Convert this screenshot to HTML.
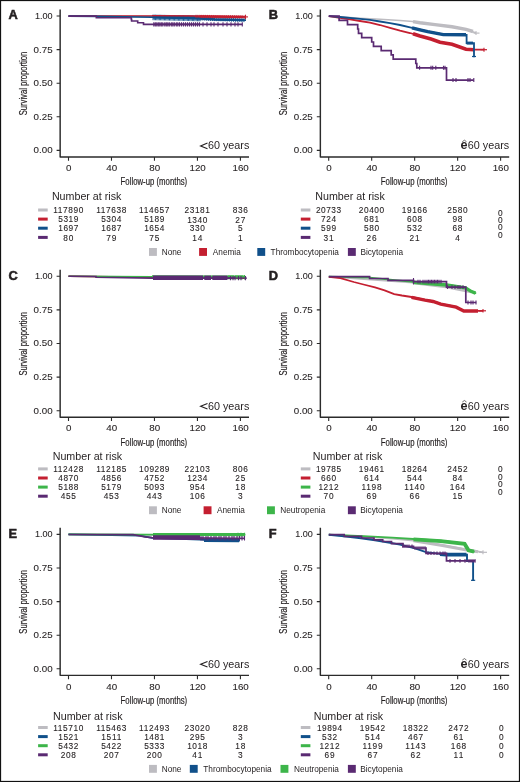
<!DOCTYPE html><html><head><meta charset="utf-8"><style>html,body{margin:0;padding:0;background:#fff;}svg{display:block;will-change:transform;font-family:"Liberation Sans",sans-serif;}</style></head><body>
<svg width="520" height="782" viewBox="0 0 520 782">
<rect x="0" y="0" width="520" height="782" fill="#fff"/>
<g fill="#231f20">
<text x="8.5" y="19.2" font-size="12.8" font-weight="bold" stroke="#231f20" stroke-width="0.55">A</text>
<path d="M60.15 9.4V156.95H249" fill="none" stroke="#2b2b2b" stroke-width="1.45" stroke-linejoin="round"/>
<path d="M56.6 16H60.1M56.6 49.6H60.1M56.6 83.2H60.1M56.6 116.8H60.1M56.6 150.4H60.1M68.5 156.95V160.8M111.48 156.95V160.8M154.46 156.95V160.8M197.44 156.95V160.8M240.42 156.95V160.8" fill="none" stroke="#2b2b2b" stroke-width="1.1"/>
<text x="52.6" y="18.95" font-size="8.4" text-anchor="end" textLength="17.6" lengthAdjust="spacingAndGlyphs" stroke="#231f20" stroke-width="0.08">1.00</text>
<text x="52.6" y="52.55" font-size="8.4" text-anchor="end" textLength="19" lengthAdjust="spacingAndGlyphs" stroke="#231f20" stroke-width="0.08">0.75</text>
<text x="52.6" y="86.15" font-size="8.4" text-anchor="end" textLength="19" lengthAdjust="spacingAndGlyphs" stroke="#231f20" stroke-width="0.08">0.50</text>
<text x="52.6" y="119.75" font-size="8.4" text-anchor="end" textLength="19" lengthAdjust="spacingAndGlyphs" stroke="#231f20" stroke-width="0.08">0.25</text>
<text x="52.6" y="153.35" font-size="8.4" text-anchor="end" textLength="19" lengthAdjust="spacingAndGlyphs" stroke="#231f20" stroke-width="0.08">0.00</text>
<text x="68.7" y="171.1" font-size="8.4" text-anchor="middle" textLength="5.45" lengthAdjust="spacingAndGlyphs" stroke="#231f20" stroke-width="0.08">0</text>
<text x="111.68" y="171.1" font-size="8.4" text-anchor="middle" textLength="10.9" lengthAdjust="spacingAndGlyphs" stroke="#231f20" stroke-width="0.08">40</text>
<text x="154.66" y="171.1" font-size="8.4" text-anchor="middle" textLength="10.9" lengthAdjust="spacingAndGlyphs" stroke="#231f20" stroke-width="0.08">80</text>
<text x="197.64" y="171.1" font-size="8.4" text-anchor="middle" textLength="16.35" lengthAdjust="spacingAndGlyphs" stroke="#231f20" stroke-width="0.08">120</text>
<text x="240.62" y="171.1" font-size="8.4" text-anchor="middle" textLength="16.35" lengthAdjust="spacingAndGlyphs" stroke="#231f20" stroke-width="0.08">160</text>
<text x="120.6" y="185.3" font-size="10" textLength="66.6" lengthAdjust="spacingAndGlyphs" stroke="#231f20" stroke-width="0.18">Follow-up (months)</text>
<text x="0" y="0" font-size="10" textLength="63.6" lengthAdjust="spacingAndGlyphs" transform="translate(26.9 115.3) rotate(-90)" fill="#231f20" stroke="#231f20" stroke-width="0.18">Survival proportion</text>
<path d="M207.5 143.1L200.6 145.9L207.5 148.7" fill="none" stroke="#231f20" stroke-width="1.1"/><text x="207.9" y="149.3" font-size="10.4" textLength="41.4" lengthAdjust="spacingAndGlyphs" fill="#231f20">60 years</text>
<text x="268.7" y="19.2" font-size="12.8" font-weight="bold" stroke="#231f20" stroke-width="0.55">B</text>
<path d="M320.35 9.4V156.95H509.2" fill="none" stroke="#2b2b2b" stroke-width="1.45" stroke-linejoin="round"/>
<path d="M316.8 16H320.3M316.8 49.6H320.3M316.8 83.2H320.3M316.8 116.8H320.3M316.8 150.4H320.3M328.7 156.95V160.8M371.68 156.95V160.8M414.66 156.95V160.8M457.64 156.95V160.8M500.62 156.95V160.8" fill="none" stroke="#2b2b2b" stroke-width="1.1"/>
<text x="312.8" y="18.95" font-size="8.4" text-anchor="end" textLength="17.6" lengthAdjust="spacingAndGlyphs" stroke="#231f20" stroke-width="0.08">1.00</text>
<text x="312.8" y="52.55" font-size="8.4" text-anchor="end" textLength="19" lengthAdjust="spacingAndGlyphs" stroke="#231f20" stroke-width="0.08">0.75</text>
<text x="312.8" y="86.15" font-size="8.4" text-anchor="end" textLength="19" lengthAdjust="spacingAndGlyphs" stroke="#231f20" stroke-width="0.08">0.50</text>
<text x="312.8" y="119.75" font-size="8.4" text-anchor="end" textLength="19" lengthAdjust="spacingAndGlyphs" stroke="#231f20" stroke-width="0.08">0.25</text>
<text x="312.8" y="153.35" font-size="8.4" text-anchor="end" textLength="19" lengthAdjust="spacingAndGlyphs" stroke="#231f20" stroke-width="0.08">0.00</text>
<text x="328.9" y="171.1" font-size="8.4" text-anchor="middle" textLength="5.45" lengthAdjust="spacingAndGlyphs" stroke="#231f20" stroke-width="0.08">0</text>
<text x="371.88" y="171.1" font-size="8.4" text-anchor="middle" textLength="10.9" lengthAdjust="spacingAndGlyphs" stroke="#231f20" stroke-width="0.08">40</text>
<text x="414.86" y="171.1" font-size="8.4" text-anchor="middle" textLength="10.9" lengthAdjust="spacingAndGlyphs" stroke="#231f20" stroke-width="0.08">80</text>
<text x="457.84" y="171.1" font-size="8.4" text-anchor="middle" textLength="16.35" lengthAdjust="spacingAndGlyphs" stroke="#231f20" stroke-width="0.08">120</text>
<text x="500.82" y="171.1" font-size="8.4" text-anchor="middle" textLength="16.35" lengthAdjust="spacingAndGlyphs" stroke="#231f20" stroke-width="0.08">160</text>
<text x="380.8" y="185.3" font-size="10" textLength="66.6" lengthAdjust="spacingAndGlyphs" stroke="#231f20" stroke-width="0.18">Follow-up (months)</text>
<text x="0" y="0" font-size="10" textLength="63.6" lengthAdjust="spacingAndGlyphs" transform="translate(287.1 115.3) rotate(-90)" fill="#231f20" stroke="#231f20" stroke-width="0.18">Survival proportion</text>
<text x="460.6" y="149.4" font-size="12.6" font-weight="bold" fill="#231f20">e</text><path d="M462.3 141.7L464.4 140.2L466.5 141.7" fill="none" stroke="#231f20" stroke-width="0.85" stroke-opacity="0.75"/><text x="467.8" y="149.3" font-size="10.4" textLength="41.4" lengthAdjust="spacingAndGlyphs" fill="#231f20">60 years</text>
<text x="8.5" y="279.5" font-size="12.8" font-weight="bold" stroke="#231f20" stroke-width="0.55">C</text>
<path d="M60.15 269.7V417.25H249" fill="none" stroke="#2b2b2b" stroke-width="1.45" stroke-linejoin="round"/>
<path d="M56.6 276.3H60.1M56.6 309.9H60.1M56.6 343.5H60.1M56.6 377.1H60.1M56.6 410.7H60.1M68.5 417.25V421.1M111.48 417.25V421.1M154.46 417.25V421.1M197.44 417.25V421.1M240.42 417.25V421.1" fill="none" stroke="#2b2b2b" stroke-width="1.1"/>
<text x="52.6" y="279.25" font-size="8.4" text-anchor="end" textLength="17.6" lengthAdjust="spacingAndGlyphs" stroke="#231f20" stroke-width="0.08">1.00</text>
<text x="52.6" y="312.85" font-size="8.4" text-anchor="end" textLength="19" lengthAdjust="spacingAndGlyphs" stroke="#231f20" stroke-width="0.08">0.75</text>
<text x="52.6" y="346.45" font-size="8.4" text-anchor="end" textLength="19" lengthAdjust="spacingAndGlyphs" stroke="#231f20" stroke-width="0.08">0.50</text>
<text x="52.6" y="380.05" font-size="8.4" text-anchor="end" textLength="19" lengthAdjust="spacingAndGlyphs" stroke="#231f20" stroke-width="0.08">0.25</text>
<text x="52.6" y="413.65" font-size="8.4" text-anchor="end" textLength="19" lengthAdjust="spacingAndGlyphs" stroke="#231f20" stroke-width="0.08">0.00</text>
<text x="68.7" y="431.4" font-size="8.4" text-anchor="middle" textLength="5.45" lengthAdjust="spacingAndGlyphs" stroke="#231f20" stroke-width="0.08">0</text>
<text x="111.68" y="431.4" font-size="8.4" text-anchor="middle" textLength="10.9" lengthAdjust="spacingAndGlyphs" stroke="#231f20" stroke-width="0.08">40</text>
<text x="154.66" y="431.4" font-size="8.4" text-anchor="middle" textLength="10.9" lengthAdjust="spacingAndGlyphs" stroke="#231f20" stroke-width="0.08">80</text>
<text x="197.64" y="431.4" font-size="8.4" text-anchor="middle" textLength="16.35" lengthAdjust="spacingAndGlyphs" stroke="#231f20" stroke-width="0.08">120</text>
<text x="240.62" y="431.4" font-size="8.4" text-anchor="middle" textLength="16.35" lengthAdjust="spacingAndGlyphs" stroke="#231f20" stroke-width="0.08">160</text>
<text x="120.6" y="445.6" font-size="10" textLength="66.6" lengthAdjust="spacingAndGlyphs" stroke="#231f20" stroke-width="0.18">Follow-up (months)</text>
<text x="0" y="0" font-size="10" textLength="63.6" lengthAdjust="spacingAndGlyphs" transform="translate(26.9 375.6) rotate(-90)" fill="#231f20" stroke="#231f20" stroke-width="0.18">Survival proportion</text>
<path d="M207.5 403.4L200.6 406.2L207.5 409" fill="none" stroke="#231f20" stroke-width="1.1"/><text x="207.9" y="409.6" font-size="10.4" textLength="41.4" lengthAdjust="spacingAndGlyphs" fill="#231f20">60 years</text>
<text x="268.7" y="279.5" font-size="12.8" font-weight="bold" stroke="#231f20" stroke-width="0.55">D</text>
<path d="M320.35 269.7V417.25H509.2" fill="none" stroke="#2b2b2b" stroke-width="1.45" stroke-linejoin="round"/>
<path d="M316.8 276.3H320.3M316.8 309.9H320.3M316.8 343.5H320.3M316.8 377.1H320.3M316.8 410.7H320.3M328.7 417.25V421.1M371.68 417.25V421.1M414.66 417.25V421.1M457.64 417.25V421.1M500.62 417.25V421.1" fill="none" stroke="#2b2b2b" stroke-width="1.1"/>
<text x="312.8" y="279.25" font-size="8.4" text-anchor="end" textLength="17.6" lengthAdjust="spacingAndGlyphs" stroke="#231f20" stroke-width="0.08">1.00</text>
<text x="312.8" y="312.85" font-size="8.4" text-anchor="end" textLength="19" lengthAdjust="spacingAndGlyphs" stroke="#231f20" stroke-width="0.08">0.75</text>
<text x="312.8" y="346.45" font-size="8.4" text-anchor="end" textLength="19" lengthAdjust="spacingAndGlyphs" stroke="#231f20" stroke-width="0.08">0.50</text>
<text x="312.8" y="380.05" font-size="8.4" text-anchor="end" textLength="19" lengthAdjust="spacingAndGlyphs" stroke="#231f20" stroke-width="0.08">0.25</text>
<text x="312.8" y="413.65" font-size="8.4" text-anchor="end" textLength="19" lengthAdjust="spacingAndGlyphs" stroke="#231f20" stroke-width="0.08">0.00</text>
<text x="328.9" y="431.4" font-size="8.4" text-anchor="middle" textLength="5.45" lengthAdjust="spacingAndGlyphs" stroke="#231f20" stroke-width="0.08">0</text>
<text x="371.88" y="431.4" font-size="8.4" text-anchor="middle" textLength="10.9" lengthAdjust="spacingAndGlyphs" stroke="#231f20" stroke-width="0.08">40</text>
<text x="414.86" y="431.4" font-size="8.4" text-anchor="middle" textLength="10.9" lengthAdjust="spacingAndGlyphs" stroke="#231f20" stroke-width="0.08">80</text>
<text x="457.84" y="431.4" font-size="8.4" text-anchor="middle" textLength="16.35" lengthAdjust="spacingAndGlyphs" stroke="#231f20" stroke-width="0.08">120</text>
<text x="500.82" y="431.4" font-size="8.4" text-anchor="middle" textLength="16.35" lengthAdjust="spacingAndGlyphs" stroke="#231f20" stroke-width="0.08">160</text>
<text x="380.8" y="445.6" font-size="10" textLength="66.6" lengthAdjust="spacingAndGlyphs" stroke="#231f20" stroke-width="0.18">Follow-up (months)</text>
<text x="0" y="0" font-size="10" textLength="63.6" lengthAdjust="spacingAndGlyphs" transform="translate(287.1 375.6) rotate(-90)" fill="#231f20" stroke="#231f20" stroke-width="0.18">Survival proportion</text>
<text x="460.6" y="409.7" font-size="12.6" font-weight="bold" fill="#231f20">e</text><path d="M462.3 402L464.4 400.5L466.5 402" fill="none" stroke="#231f20" stroke-width="0.85" stroke-opacity="0.75"/><text x="467.8" y="409.6" font-size="10.4" textLength="41.4" lengthAdjust="spacingAndGlyphs" fill="#231f20">60 years</text>
<text x="8.5" y="537.6" font-size="12.8" font-weight="bold" stroke="#231f20" stroke-width="0.55">E</text>
<path d="M60.15 527.8V675.35H249" fill="none" stroke="#2b2b2b" stroke-width="1.45" stroke-linejoin="round"/>
<path d="M56.6 534.4H60.1M56.6 568H60.1M56.6 601.6H60.1M56.6 635.2H60.1M56.6 668.8H60.1M68.5 675.35V679.2M111.48 675.35V679.2M154.46 675.35V679.2M197.44 675.35V679.2M240.42 675.35V679.2" fill="none" stroke="#2b2b2b" stroke-width="1.1"/>
<text x="52.6" y="537.35" font-size="8.4" text-anchor="end" textLength="17.6" lengthAdjust="spacingAndGlyphs" stroke="#231f20" stroke-width="0.08">1.00</text>
<text x="52.6" y="570.95" font-size="8.4" text-anchor="end" textLength="19" lengthAdjust="spacingAndGlyphs" stroke="#231f20" stroke-width="0.08">0.75</text>
<text x="52.6" y="604.55" font-size="8.4" text-anchor="end" textLength="19" lengthAdjust="spacingAndGlyphs" stroke="#231f20" stroke-width="0.08">0.50</text>
<text x="52.6" y="638.15" font-size="8.4" text-anchor="end" textLength="19" lengthAdjust="spacingAndGlyphs" stroke="#231f20" stroke-width="0.08">0.25</text>
<text x="52.6" y="671.75" font-size="8.4" text-anchor="end" textLength="19" lengthAdjust="spacingAndGlyphs" stroke="#231f20" stroke-width="0.08">0.00</text>
<text x="68.7" y="689.5" font-size="8.4" text-anchor="middle" textLength="5.45" lengthAdjust="spacingAndGlyphs" stroke="#231f20" stroke-width="0.08">0</text>
<text x="111.68" y="689.5" font-size="8.4" text-anchor="middle" textLength="10.9" lengthAdjust="spacingAndGlyphs" stroke="#231f20" stroke-width="0.08">40</text>
<text x="154.66" y="689.5" font-size="8.4" text-anchor="middle" textLength="10.9" lengthAdjust="spacingAndGlyphs" stroke="#231f20" stroke-width="0.08">80</text>
<text x="197.64" y="689.5" font-size="8.4" text-anchor="middle" textLength="16.35" lengthAdjust="spacingAndGlyphs" stroke="#231f20" stroke-width="0.08">120</text>
<text x="240.62" y="689.5" font-size="8.4" text-anchor="middle" textLength="16.35" lengthAdjust="spacingAndGlyphs" stroke="#231f20" stroke-width="0.08">160</text>
<text x="120.6" y="703.7" font-size="10" textLength="66.6" lengthAdjust="spacingAndGlyphs" stroke="#231f20" stroke-width="0.18">Follow-up (months)</text>
<text x="0" y="0" font-size="10" textLength="63.6" lengthAdjust="spacingAndGlyphs" transform="translate(26.9 633.7) rotate(-90)" fill="#231f20" stroke="#231f20" stroke-width="0.18">Survival proportion</text>
<path d="M207.5 661.5L200.6 664.3L207.5 667.1" fill="none" stroke="#231f20" stroke-width="1.1"/><text x="207.9" y="667.7" font-size="10.4" textLength="41.4" lengthAdjust="spacingAndGlyphs" fill="#231f20">60 years</text>
<text x="268.7" y="537.6" font-size="12.8" font-weight="bold" stroke="#231f20" stroke-width="0.55">F</text>
<path d="M320.35 527.8V675.35H509.2" fill="none" stroke="#2b2b2b" stroke-width="1.45" stroke-linejoin="round"/>
<path d="M316.8 534.4H320.3M316.8 568H320.3M316.8 601.6H320.3M316.8 635.2H320.3M316.8 668.8H320.3M328.7 675.35V679.2M371.68 675.35V679.2M414.66 675.35V679.2M457.64 675.35V679.2M500.62 675.35V679.2" fill="none" stroke="#2b2b2b" stroke-width="1.1"/>
<text x="312.8" y="537.35" font-size="8.4" text-anchor="end" textLength="17.6" lengthAdjust="spacingAndGlyphs" stroke="#231f20" stroke-width="0.08">1.00</text>
<text x="312.8" y="570.95" font-size="8.4" text-anchor="end" textLength="19" lengthAdjust="spacingAndGlyphs" stroke="#231f20" stroke-width="0.08">0.75</text>
<text x="312.8" y="604.55" font-size="8.4" text-anchor="end" textLength="19" lengthAdjust="spacingAndGlyphs" stroke="#231f20" stroke-width="0.08">0.50</text>
<text x="312.8" y="638.15" font-size="8.4" text-anchor="end" textLength="19" lengthAdjust="spacingAndGlyphs" stroke="#231f20" stroke-width="0.08">0.25</text>
<text x="312.8" y="671.75" font-size="8.4" text-anchor="end" textLength="19" lengthAdjust="spacingAndGlyphs" stroke="#231f20" stroke-width="0.08">0.00</text>
<text x="328.9" y="689.5" font-size="8.4" text-anchor="middle" textLength="5.45" lengthAdjust="spacingAndGlyphs" stroke="#231f20" stroke-width="0.08">0</text>
<text x="371.88" y="689.5" font-size="8.4" text-anchor="middle" textLength="10.9" lengthAdjust="spacingAndGlyphs" stroke="#231f20" stroke-width="0.08">40</text>
<text x="414.86" y="689.5" font-size="8.4" text-anchor="middle" textLength="10.9" lengthAdjust="spacingAndGlyphs" stroke="#231f20" stroke-width="0.08">80</text>
<text x="457.84" y="689.5" font-size="8.4" text-anchor="middle" textLength="16.35" lengthAdjust="spacingAndGlyphs" stroke="#231f20" stroke-width="0.08">120</text>
<text x="500.82" y="689.5" font-size="8.4" text-anchor="middle" textLength="16.35" lengthAdjust="spacingAndGlyphs" stroke="#231f20" stroke-width="0.08">160</text>
<text x="380.8" y="703.7" font-size="10" textLength="66.6" lengthAdjust="spacingAndGlyphs" stroke="#231f20" stroke-width="0.18">Follow-up (months)</text>
<text x="0" y="0" font-size="10" textLength="63.6" lengthAdjust="spacingAndGlyphs" transform="translate(287.1 633.7) rotate(-90)" fill="#231f20" stroke="#231f20" stroke-width="0.18">Survival proportion</text>
<text x="460.6" y="667.8" font-size="12.6" font-weight="bold" fill="#231f20">e</text><path d="M462.3 660.1L464.4 658.6L466.5 660.1" fill="none" stroke="#231f20" stroke-width="0.85" stroke-opacity="0.75"/><text x="467.8" y="667.7" font-size="10.4" textLength="41.4" lengthAdjust="spacingAndGlyphs" fill="#231f20">60 years</text>
<path d="M68.5 16 L152 16.4 L245 17.4" stroke="#bdbcc1" stroke-width="1.6" fill="none" stroke-linejoin="miter"/>
<path d="M68.5 16 L152 16 L195 16.4 L245.5 16.9" stroke="#c41f30" stroke-width="1.6" fill="none" stroke-linejoin="miter"/>
<path d="M68.5 16.1 L96 16.4 L152 17.2 L185 17.9 L200 18.3 L215 19.4 L246 20.1" stroke="#10508a" stroke-width="1.6" fill="none" stroke-linejoin="miter"/>
<path d="M153 17.4 L185 18 L200 18.5 L215 19.5 L244 20.1" stroke="#10508a" stroke-width="2.4" fill="none" stroke-linejoin="miter"/>
<path d="M153 14.6V20.2M154.27 14.63V20.23M155.54 14.66V20.26M156.81 14.69V20.29M158.08 14.72V20.32M159.35 14.75V20.35M160.62 14.78V20.38M161.89 14.81V20.41M163.16 14.84V20.44M164.43 14.87V20.47M165.7 14.9V20.5M166.97 14.93V20.53M168.24 14.96V20.56M169.51 14.99V20.59M170.78 15.02V20.62M172.05 15.05V20.65M173.32 15.08V20.68M174.59 15.11V20.71M175.86 15.14V20.74M177.14 15.16V20.76M178.41 15.19V20.79M179.68 15.22V20.82M180.95 15.25V20.85M182.22 15.28V20.88M183.49 15.31V20.91M184.76 15.34V20.94M186.03 15.37V20.97M187.3 15.4V21M188.57 15.43V21.03M189.84 15.46V21.06M191.11 15.49V21.09M192.38 15.52V21.12M193.65 15.55V21.15M194.92 15.58V21.18M196.19 15.61V21.21M197.46 15.64V21.24M198.73 15.67V21.27M200 15.7V21.3" stroke="#10508a" stroke-width="0.9" fill="none"/>
<path d="M200 16.6V20.6M202.1 16.67V20.67M204.19 16.74V20.74M206.29 16.81V20.81M208.38 16.89V20.89M210.48 16.96V20.96M212.57 17.03V21.03M214.67 17.1V21.1M216.76 17.17V21.17M218.86 17.24V21.24M220.95 17.31V21.31M223.05 17.39V21.39M225.14 17.46V21.46M227.24 17.53V21.53M229.33 17.6V21.6M231.43 17.67V21.67M233.52 17.74V21.74M235.62 17.81V21.81M237.71 17.89V21.89M239.81 17.96V21.96M241.9 18.03V22.03M244 18.1V22.1" stroke="#10508a" stroke-width="0.9" fill="none"/>
<path d="M152 15.6 L190 15.9 L205 16.3 L243 16.9" stroke="#c41f30" stroke-width="1.2" fill="none" stroke-linejoin="miter"/>
<path d="M200 16.4 L243 16.9" stroke="#c41f30" stroke-width="2.4" fill="none" stroke-linejoin="miter"/>
<path d="M196 14.8V18M197.92 14.82V18.02M199.84 14.84V18.04M201.76 14.86V18.06M203.68 14.88V18.08M205.6 14.9V18.1M207.52 14.92V18.12M209.44 14.94V18.14M211.36 14.96V18.16M213.28 14.98V18.18M215.2 15V18.2M217.12 15.02V18.22M219.04 15.04V18.24M220.96 15.06V18.26M222.88 15.08V18.28M224.8 15.1V18.3M226.72 15.12V18.32M228.64 15.14V18.34M230.56 15.16V18.36M232.48 15.18V18.38M234.4 15.2V18.4M236.32 15.22V18.42M238.24 15.24V18.44M240.16 15.26V18.46M242.08 15.28V18.48M244 15.3V18.5" stroke="#c41f30" stroke-width="0.9" fill="none"/>
<path d="M245.5 14.7V19.1" stroke="#c41f30" stroke-width="1.1" fill="none"/>
<path d="M243 16.9H248" stroke="#c41f30" stroke-width="1.1"/>
<path d="M68.5 16.1 L96.3 16.1 L96.3 17.7 L131.3 17.7 L131.3 19.4 L131.6 19.4 L131.6 21 L137.7 21 L137.7 22.7 L143.5 22.7 L143.5 24.4 L242.3 24.4 L242.3 24.4" stroke="#5a2a72" stroke-width="1.6" fill="none" stroke-linejoin="miter"/>
<path d="M154 24.4 L200 24.4" stroke="#5a2a72" stroke-width="1.8" fill="none" stroke-linejoin="miter"/>
<path d="M153.8 22.2V26.6M155.3 22.2V26.6M156.8 22.2V26.6M158.3 22.2V26.6M159.8 22.2V26.6M161.3 22.2V26.6M162.8 22.2V26.6M164.8 22.2V26.6M166.3 22.2V26.6M167.8 22.2V26.6M169.3 22.2V26.6M171.3 22.2V26.6M172.8 22.2V26.6M174.3 22.2V26.6M176.3 22.2V26.6M177.8 22.2V26.6M179.5 22.2V26.6M181.5 22.2V26.6M183.5 22.2V26.6M185.5 22.2V26.6M187.5 22.2V26.6M189.5 22.2V26.6M191.5 22.2V26.6M193.5 22.2V26.6M195.5 22.2V26.6M197.5 22.2V26.6M199.5 22.2V26.6M203 22.2V26.6M207 22.2V26.6M211 22.2V26.6M214 22.2V26.6M218 22.2V26.6M223 22.2V26.6M227 22.2V26.6M231 22.2V26.6M235 22.2V26.6M238 22.2V26.6M242.3 22.2V26.6" stroke="#5a2a72" stroke-width="1.1" fill="none"/>
<path d="M328.8 16.2 L340 16.9 L360 18.2 L380 19.2 L400 20.5 L413 21.5 L420 22.7 L435 24.5 L452 26.7 L466 29.3 L476 33.1" stroke="#bdbcc1" stroke-width="1.6" fill="none" stroke-linejoin="miter"/>
<path d="M413 21.6 L420 22.8 L435 24.6 L452 26.8 L466 29.4 L473 31.5" stroke="#bdbcc1" stroke-width="3.4" fill="none" stroke-linejoin="miter"/>
<path d="M476 31.1V35.1" stroke="#bdbcc1" stroke-width="1.1" fill="none"/>
<path d="M473.5 33.1H479.5" stroke="#bdbcc1" stroke-width="1.2"/>
<path d="M328.8 16.2 L340 17.8 L350 19.4 L360 21 L370 22.7 L380 25 L390 27.8 L400 30.7 L410 33 L420 35.9 L431 38.8 L440 42 L452 44 L466 49.2 L474 49.7 L484 49.7" stroke="#c41f30" stroke-width="1.8" fill="none" stroke-linejoin="miter"/>
<path d="M413 33.8 L420 36 L431 39 L440 42.2 L452 44.2 L466 49.3 L474 49.8" stroke="#c41f30" stroke-width="3.6" fill="none" stroke-linejoin="miter"/>
<path d="M484 47.7V51.7" stroke="#c41f30" stroke-width="1.1" fill="none"/>
<path d="M480.5 49.7H487" stroke="#c41f30" stroke-width="1.2"/>
<path d="M328.8 16.2 L340 17 L360 18.8 L370 19.8 L380 21.5 L390 23.2 L400 25 L410 27.3 L420 29.6 L427.7 31.4 L443.3 34.5 L466.6 34.8 L466.6 43.1 L474 43.1 L474 57.3" stroke="#10508a" stroke-width="1.8" fill="none" stroke-linejoin="miter"/>
<path d="M412 27.8 L420 29.8 L427.7 31.6 L443.3 34.6 L466 34.8" stroke="#10508a" stroke-width="3.4" fill="none" stroke-linejoin="miter"/>
<path d="M466.6 43.1 L473 43.1" stroke="#10508a" stroke-width="3" fill="none" stroke-linejoin="miter"/>
<path d="M472 56.5H476" stroke="#10508a" stroke-width="1.2"/>
<path d="M328.8 16.1 L339.1 16.1 L339.1 20.4 L347.5 20.4 L347.5 24.7 L357.7 24.7 L357.7 29 L358.5 29 L358.5 33.4 L361.7 33.4 L361.7 37.7 L371.7 37.7 L371.7 42 L373.5 42 L373.5 46.3 L381.2 46.3 L381.2 50.6 L391.2 50.6 L391.2 54.9 L393.2 54.9 L393.2 59.2 L415.8 59.2 L415.8 63.5 L416.8 63.5 L416.8 67.8 L446.5 67.8 L446.5 80.1 L473.8 80.1 L473.8 80.1" stroke="#5a2a72" stroke-width="1.7" fill="none" stroke-linejoin="miter"/>
<path d="M419.6 65.8V69.8M431 65.8V69.8M432.7 65.8V69.8M435.8 65.8V69.8M443.5 65.8V69.8M445 65.8V69.8" stroke="#5a2a72" stroke-width="1.1" fill="none"/>
<path d="M453 78.1V82.1M456 78.1V82.1M468 78.1V82.1M470 78.1V82.1M473.8 78.1V82.1" stroke="#5a2a72" stroke-width="1.1" fill="none"/>
<path d="M68.5 276.3 L152 277 L245 277.4" stroke="#bdbcc1" stroke-width="1.6" fill="none" stroke-linejoin="miter"/>
<path d="M68.5 276.3 L152 277.3 L245 278.2" stroke="#c41f30" stroke-width="1.6" fill="none" stroke-linejoin="miter"/>
<path d="M68.5 276.3 L152 276.8 L245.2 276.9" stroke="#3db54a" stroke-width="1.6" fill="none" stroke-linejoin="miter"/>
<path d="M152 276.4 L245 276.5" stroke="#3db54a" stroke-width="2.2" fill="none" stroke-linejoin="miter"/>
<path d="M229 275V279.6M231 275V279.6M233 275V279.6M236 275V279.6M238 275V279.6M240 275V279.6M242 275V279.6M244.5 275V279.6" stroke="#3db54a" stroke-width="1.1" fill="none"/>
<path d="M68.5 276.3 L96 276.5 L96 277.2 L152 278.1 L235 278.1" stroke="#5a2a72" stroke-width="1.6" fill="none" stroke-linejoin="miter"/>
<path d="M153 277.8 L203 277.8" stroke="#5a2a72" stroke-width="4.4" fill="none" stroke-linejoin="miter"/>
<path d="M204.3 277.8 L211 277.8" stroke="#5a2a72" stroke-width="4.4" fill="none" stroke-linejoin="miter"/>
<path d="M212.3 277.8 L227.5 277.8" stroke="#5a2a72" stroke-width="4.4" fill="none" stroke-linejoin="miter"/>
<path d="M230.5 276V280.2M233 276V280.2M235 276V280.2M238.5 276V280.2M241 276V280.2M245.5 276V280.2" stroke="#5a2a72" stroke-width="1.1" fill="none"/>
<path d="M228 278.1H247" stroke="#5a2a72" stroke-width="1.2"/>
<path d="M328.8 276.7 L413 282.5 L446 286.5 L466 290.5 L473 292.3" stroke="#bdbcc1" stroke-width="1.8" fill="none" stroke-linejoin="miter"/>
<path d="M413 282.9 L446 286.9 L466 290.8 L471 291.8" stroke="#bdbcc1" stroke-width="2.8" fill="none" stroke-linejoin="miter"/>
<path d="M328.8 276.7 L369.6 277.6 L413 281.8 L446.5 284.6 L465.4 287.5 L471.5 291.5 L476.2 293.5" stroke="#3db54a" stroke-width="1.8" fill="none" stroke-linejoin="miter"/>
<path d="M413 282.2 L446.5 285 L465.4 287.8 L471.5 291.6 L475.5 293.2" stroke="#3db54a" stroke-width="3.4" fill="none" stroke-linejoin="miter"/>
<path d="M328.8 276.8 L340.4 278.2 L353.8 282 L363.5 284.5 L375 287.4 L384.6 290.3 L394.2 294.1 L401.9 295.5 L411.5 297 L425 299.9 L433 301.2 L440.8 303.8 L456.2 306.9 L463.8 310.8 L483 310.8" stroke="#c41f30" stroke-width="1.8" fill="none" stroke-linejoin="miter"/>
<path d="M411.5 297.3 L425 300.2 L433 301.5 L440.8 304.1 L456.2 307.2 L463.8 311 L478 311" stroke="#c41f30" stroke-width="3.4" fill="none" stroke-linejoin="miter"/>
<path d="M483 309V312.6" stroke="#c41f30" stroke-width="1.1" fill="none"/>
<path d="M479 310.8H486" stroke="#c41f30" stroke-width="1.2"/>
<path d="M328.8 276.7 L369.6 276.7 L369.6 278.5 L388 278.5 L388 280.3 L413.5 280.3 L413.5 281.7 L446.5 281.7 L446.5 287.1 L465.8 287.1 L465.8 302.5 L476.2 302.5 L476.2 302.5" stroke="#5a2a72" stroke-width="1.7" fill="none" stroke-linejoin="miter"/>
<path d="M413.5 278V284.4" stroke="#5a2a72" stroke-width="1.1" fill="none"/>
<path d="M418 279.8V283.6M420 279.8V283.6M423 279.8V283.6M425 279.8V283.6M427 279.8V283.6M428.5 279.8V283.6M430 279.8V283.6M431.5 279.8V283.6M433 279.8V283.6M434.5 279.8V283.6M436 279.8V283.6M437.5 279.8V283.6M439 279.8V283.6M441 279.8V283.6" stroke="#5a2a72" stroke-width="1.1" fill="none"/>
<path d="M447.5 285.2V289M452 285.2V289M455 285.2V289M458 285.2V289M460 285.2V289M463 285.2V289" stroke="#5a2a72" stroke-width="1.1" fill="none"/>
<path d="M468 300.6V304.4M471 300.6V304.4M473 300.6V304.4M476 300.6V304.4" stroke="#5a2a72" stroke-width="1.1" fill="none"/>
<path d="M68.5 534.4 L152 535 L245 535.6" stroke="#bdbcc1" stroke-width="1.6" fill="none" stroke-linejoin="miter"/>
<path d="M68.5 534.4 L140 535.6 L152 537.8 L200 539.5 L213 540.4 L240 540.6" stroke="#10508a" stroke-width="1.8" fill="none" stroke-linejoin="miter"/>
<path d="M204 540.4 L239 540.6" stroke="#10508a" stroke-width="3.4" fill="none" stroke-linejoin="miter"/>
<path d="M68.5 534.4 L152 534.6 L245.4 534.6" stroke="#3db54a" stroke-width="1.8" fill="none" stroke-linejoin="miter"/>
<path d="M153 534.5 L244 534.5" stroke="#3db54a" stroke-width="3.0" fill="none" stroke-linejoin="miter"/>
<path d="M238 532.8V536.4M241 532.8V536.4M244.5 532.8V536.4" stroke="#3db54a" stroke-width="1.1" fill="none"/>
<path d="M68.5 534.5 L133 534.7 L140 535.8 L145 536.8 L152 537.6 L244 538.3" stroke="#5a2a72" stroke-width="1.7" fill="none" stroke-linejoin="miter"/>
<path d="M153 537.5 L200 537.6" stroke="#5a2a72" stroke-width="4.6" fill="none" stroke-linejoin="miter"/>
<path d="M201 536V540.4M203 536V540.4M206 536V540.4M208 536V540.4M211 536V540.4M214 536V540.4M216 536V540.4M219 536V540.4M221 536V540.4M224 536V540.4M226 536V540.4M229 536V540.4M232 536V540.4M234 536V540.4M237 536V540.4M239.5 536V540.4M242 536V540.4M244.5 536V540.4" stroke="#5a2a72" stroke-width="1.1" fill="none"/>
<path d="M328.8 534.7 L363.5 536.6 L392.3 538.5 L413.5 540.5 L441 545 L465.4 549.5 L483 552.3" stroke="#bdbcc1" stroke-width="1.8" fill="none" stroke-linejoin="miter"/>
<path d="M413.5 540.8 L441 545.3 L465.4 549.8 L478 551.8" stroke="#bdbcc1" stroke-width="3" fill="none" stroke-linejoin="miter"/>
<path d="M483 550.3V554.3" stroke="#bdbcc1" stroke-width="1.1" fill="none"/>
<path d="M479 552.3H487" stroke="#bdbcc1" stroke-width="1.2"/>
<path d="M328.8 534.7 L363.5 536.1 L392.3 537.6 L413.5 539 L440.8 540.8 L464.6 543.6 L468.5 550.3 L474.6 551.8" stroke="#3db54a" stroke-width="1.9" fill="none" stroke-linejoin="miter"/>
<path d="M413.5 539.3 L440.8 541.1 L464.6 543.9 L468.5 550.3 L474 551.6" stroke="#3db54a" stroke-width="3.8" fill="none" stroke-linejoin="miter"/>
<path d="M328.8 534.7 L344 536.4 L361 538.2 L375 540.2 L390 542.8 L400 544.6 L415 548.3 L426 552.1 L446 554.6 L467 554.6 L467 561 L473.1 561 L473.1 581.1" stroke="#10508a" stroke-width="1.9" fill="none" stroke-linejoin="miter"/>
<path d="M440 554.2 L446 554.6 L466.5 554.6" stroke="#10508a" stroke-width="3.6" fill="none" stroke-linejoin="miter"/>
<path d="M471 580.3H475.2" stroke="#10508a" stroke-width="1.2"/>
<path d="M328.8 534.7 L344.2 534.7 L344.2 536.3 L361.5 536.3 L361.5 538 L374 538 L374 539.9 L382.7 539.9 L382.7 541.5 L391.5 541.5 L391.5 543.6 L403 543.6 L403 546.3 L413.5 546.3 L413.5 548 L426 548 L426 553.3 L446.5 553.3 L446.5 560.9 L475.4 560.9 L475.4 560.9" stroke="#5a2a72" stroke-width="1.7" fill="none" stroke-linejoin="miter"/>
<path d="M403 544.5V548.1M405 544.5V548.1M407 544.5V548.1M409 544.5V548.1M412 544.5V548.1" stroke="#5a2a72" stroke-width="1.1" fill="none"/>
<path d="M415 546.2V549.8M417 546.2V549.8M419 546.2V549.8M421 546.2V549.8M423 546.2V549.8M425 546.2V549.8" stroke="#5a2a72" stroke-width="1.1" fill="none"/>
<path d="M428 551.5V555.1M431 551.5V555.1M434 551.5V555.1M437 551.5V555.1M440 551.5V555.1M443 551.5V555.1M445 551.5V555.1" stroke="#5a2a72" stroke-width="1.1" fill="none"/>
<path d="M450 559.1V562.7M455 559.1V562.7M460 559.1V562.7M465 559.1V562.7M469 559.1V562.7M471 559.1V562.7M473 559.1V562.7M475 559.1V562.7" stroke="#5a2a72" stroke-width="1.1" fill="none"/>
<text x="51.9" y="200.1" font-size="10.7" >Number at risk</text>
<rect x="38.1" y="208.5" width="9.6" height="3" fill="#bdbcc1"/>
<text x="68.3" y="213.1" font-size="8.3" text-anchor="middle" textLength="30.3" lengthAdjust="spacing" stroke="#231f20" stroke-width="0.1">117890</text>
<text x="111.28" y="213.1" font-size="8.3" text-anchor="middle" textLength="30.3" lengthAdjust="spacing" stroke="#231f20" stroke-width="0.1">117638</text>
<text x="154.26" y="213.1" font-size="8.3" text-anchor="middle" textLength="30.3" lengthAdjust="spacing" stroke="#231f20" stroke-width="0.1">114657</text>
<text x="197.24" y="213.1" font-size="8.3" text-anchor="middle" textLength="25.25" lengthAdjust="spacing" stroke="#231f20" stroke-width="0.1">23181</text>
<text x="240.22" y="213.1" font-size="8.3" text-anchor="middle" textLength="15.15" lengthAdjust="spacing" stroke="#231f20" stroke-width="0.1">836</text>
<rect x="38.1" y="217.6" width="9.6" height="3" fill="#c41f30"/>
<text x="68.3" y="222.2" font-size="8.3" text-anchor="middle" textLength="20.2" lengthAdjust="spacing" stroke="#231f20" stroke-width="0.1">5319</text>
<text x="111.28" y="222.2" font-size="8.3" text-anchor="middle" textLength="20.2" lengthAdjust="spacing" stroke="#231f20" stroke-width="0.1">5304</text>
<text x="154.26" y="222.2" font-size="8.3" text-anchor="middle" textLength="20.2" lengthAdjust="spacing" stroke="#231f20" stroke-width="0.1">5189</text>
<text x="197.24" y="223.4" font-size="8.3" text-anchor="middle" textLength="20.2" lengthAdjust="spacing" stroke="#231f20" stroke-width="0.1">1340</text>
<text x="240.22" y="223.3" font-size="8.3" text-anchor="middle" textLength="10.1" lengthAdjust="spacing" stroke="#231f20" stroke-width="0.1">27</text>
<rect x="38.1" y="226.7" width="9.6" height="3" fill="#10508a"/>
<text x="68.3" y="231.3" font-size="8.3" text-anchor="middle" textLength="20.2" lengthAdjust="spacing" stroke="#231f20" stroke-width="0.1">1697</text>
<text x="111.28" y="231.3" font-size="8.3" text-anchor="middle" textLength="20.2" lengthAdjust="spacing" stroke="#231f20" stroke-width="0.1">1687</text>
<text x="154.26" y="231.3" font-size="8.3" text-anchor="middle" textLength="20.2" lengthAdjust="spacing" stroke="#231f20" stroke-width="0.1">1654</text>
<text x="197.24" y="230.5" font-size="8.3" text-anchor="middle" textLength="15.15" lengthAdjust="spacing" stroke="#231f20" stroke-width="0.1">330</text>
<text x="240.22" y="230.5" font-size="8.3" text-anchor="middle" textLength="5.05" lengthAdjust="spacing" stroke="#231f20" stroke-width="0.1">5</text>
<rect x="38.1" y="235.9" width="9.6" height="3" fill="#5a2a72"/>
<text x="68.3" y="240.5" font-size="8.3" text-anchor="middle" textLength="10.1" lengthAdjust="spacing" stroke="#231f20" stroke-width="0.1">80</text>
<text x="111.28" y="240.5" font-size="8.3" text-anchor="middle" textLength="10.1" lengthAdjust="spacing" stroke="#231f20" stroke-width="0.1">79</text>
<text x="154.26" y="240.5" font-size="8.3" text-anchor="middle" textLength="10.1" lengthAdjust="spacing" stroke="#231f20" stroke-width="0.1">75</text>
<text x="197.24" y="240.5" font-size="8.3" text-anchor="middle" textLength="10.1" lengthAdjust="spacing" stroke="#231f20" stroke-width="0.1">14</text>
<text x="240.22" y="240.5" font-size="8.3" text-anchor="middle" textLength="5.05" lengthAdjust="spacing" stroke="#231f20" stroke-width="0.1">1</text>
<text x="315.3" y="200.1" font-size="10.7" >Number at risk</text>
<rect x="300.8" y="208.5" width="9.6" height="3" fill="#bdbcc1"/>
<text x="328.5" y="213.1" font-size="8.3" text-anchor="middle" textLength="25.25" lengthAdjust="spacing" stroke="#231f20" stroke-width="0.1">20733</text>
<text x="371.48" y="213.1" font-size="8.3" text-anchor="middle" textLength="25.25" lengthAdjust="spacing" stroke="#231f20" stroke-width="0.1">20400</text>
<text x="414.46" y="213.1" font-size="8.3" text-anchor="middle" textLength="25.25" lengthAdjust="spacing" stroke="#231f20" stroke-width="0.1">19166</text>
<text x="457.44" y="213.1" font-size="8.3" text-anchor="middle" textLength="20.2" lengthAdjust="spacing" stroke="#231f20" stroke-width="0.1">2580</text>
<text x="500.42" y="215.7" font-size="8.3" text-anchor="middle" textLength="5.05" lengthAdjust="spacing" stroke="#231f20" stroke-width="0.1">0</text>
<rect x="300.8" y="217.6" width="9.6" height="3" fill="#c41f30"/>
<text x="328.5" y="222.2" font-size="8.3" text-anchor="middle" textLength="15.15" lengthAdjust="spacing" stroke="#231f20" stroke-width="0.1">724</text>
<text x="371.48" y="222.2" font-size="8.3" text-anchor="middle" textLength="15.15" lengthAdjust="spacing" stroke="#231f20" stroke-width="0.1">681</text>
<text x="414.46" y="222.2" font-size="8.3" text-anchor="middle" textLength="15.15" lengthAdjust="spacing" stroke="#231f20" stroke-width="0.1">608</text>
<text x="457.44" y="222.2" font-size="8.3" text-anchor="middle" textLength="10.1" lengthAdjust="spacing" stroke="#231f20" stroke-width="0.1">98</text>
<text x="500.42" y="223.1" font-size="8.3" text-anchor="middle" textLength="5.05" lengthAdjust="spacing" stroke="#231f20" stroke-width="0.1">0</text>
<rect x="300.8" y="226.7" width="9.6" height="3" fill="#10508a"/>
<text x="328.5" y="231.3" font-size="8.3" text-anchor="middle" textLength="15.15" lengthAdjust="spacing" stroke="#231f20" stroke-width="0.1">599</text>
<text x="371.48" y="231.3" font-size="8.3" text-anchor="middle" textLength="15.15" lengthAdjust="spacing" stroke="#231f20" stroke-width="0.1">580</text>
<text x="414.46" y="231.3" font-size="8.3" text-anchor="middle" textLength="15.15" lengthAdjust="spacing" stroke="#231f20" stroke-width="0.1">532</text>
<text x="457.44" y="231.3" font-size="8.3" text-anchor="middle" textLength="10.1" lengthAdjust="spacing" stroke="#231f20" stroke-width="0.1">68</text>
<text x="500.42" y="230.4" font-size="8.3" text-anchor="middle" textLength="5.05" lengthAdjust="spacing" stroke="#231f20" stroke-width="0.1">0</text>
<rect x="300.8" y="235.9" width="9.6" height="3" fill="#5a2a72"/>
<text x="328.5" y="240.5" font-size="8.3" text-anchor="middle" textLength="10.1" lengthAdjust="spacing" stroke="#231f20" stroke-width="0.1">31</text>
<text x="371.48" y="240.5" font-size="8.3" text-anchor="middle" textLength="10.1" lengthAdjust="spacing" stroke="#231f20" stroke-width="0.1">26</text>
<text x="414.46" y="240.5" font-size="8.3" text-anchor="middle" textLength="10.1" lengthAdjust="spacing" stroke="#231f20" stroke-width="0.1">21</text>
<text x="457.44" y="240.5" font-size="8.3" text-anchor="middle" textLength="5.05" lengthAdjust="spacing" stroke="#231f20" stroke-width="0.1">4</text>
<text x="500.42" y="238.1" font-size="8.3" text-anchor="middle" textLength="5.05" lengthAdjust="spacing" stroke="#231f20" stroke-width="0.1">0</text>
<text x="52.7" y="460.3" font-size="10.7" >Number at risk</text>
<rect x="38.1" y="467.4" width="9.6" height="3" fill="#bdbcc1"/>
<text x="68.3" y="472" font-size="8.3" text-anchor="middle" textLength="30.3" lengthAdjust="spacing" stroke="#231f20" stroke-width="0.1">112428</text>
<text x="111.28" y="472" font-size="8.3" text-anchor="middle" textLength="30.3" lengthAdjust="spacing" stroke="#231f20" stroke-width="0.1">112185</text>
<text x="154.26" y="472" font-size="8.3" text-anchor="middle" textLength="30.3" lengthAdjust="spacing" stroke="#231f20" stroke-width="0.1">109289</text>
<text x="197.24" y="472" font-size="8.3" text-anchor="middle" textLength="25.25" lengthAdjust="spacing" stroke="#231f20" stroke-width="0.1">22103</text>
<text x="240.22" y="472" font-size="8.3" text-anchor="middle" textLength="15.15" lengthAdjust="spacing" stroke="#231f20" stroke-width="0.1">806</text>
<rect x="38.1" y="476.5" width="9.6" height="3" fill="#c41f30"/>
<text x="68.3" y="481.1" font-size="8.3" text-anchor="middle" textLength="20.2" lengthAdjust="spacing" stroke="#231f20" stroke-width="0.1">4870</text>
<text x="111.28" y="481.1" font-size="8.3" text-anchor="middle" textLength="20.2" lengthAdjust="spacing" stroke="#231f20" stroke-width="0.1">4856</text>
<text x="154.26" y="481.1" font-size="8.3" text-anchor="middle" textLength="20.2" lengthAdjust="spacing" stroke="#231f20" stroke-width="0.1">4752</text>
<text x="197.24" y="481.1" font-size="8.3" text-anchor="middle" textLength="20.2" lengthAdjust="spacing" stroke="#231f20" stroke-width="0.1">1234</text>
<text x="240.22" y="481.1" font-size="8.3" text-anchor="middle" textLength="10.1" lengthAdjust="spacing" stroke="#231f20" stroke-width="0.1">25</text>
<rect x="38.1" y="485.6" width="9.6" height="3" fill="#3db54a"/>
<text x="68.3" y="490.2" font-size="8.3" text-anchor="middle" textLength="20.2" lengthAdjust="spacing" stroke="#231f20" stroke-width="0.1">5188</text>
<text x="111.28" y="490.2" font-size="8.3" text-anchor="middle" textLength="20.2" lengthAdjust="spacing" stroke="#231f20" stroke-width="0.1">5179</text>
<text x="154.26" y="490.2" font-size="8.3" text-anchor="middle" textLength="20.2" lengthAdjust="spacing" stroke="#231f20" stroke-width="0.1">5093</text>
<text x="197.24" y="490.2" font-size="8.3" text-anchor="middle" textLength="15.15" lengthAdjust="spacing" stroke="#231f20" stroke-width="0.1">954</text>
<text x="240.22" y="490.2" font-size="8.3" text-anchor="middle" textLength="10.1" lengthAdjust="spacing" stroke="#231f20" stroke-width="0.1">18</text>
<rect x="38.1" y="494.7" width="9.6" height="3" fill="#5a2a72"/>
<text x="68.3" y="499.3" font-size="8.3" text-anchor="middle" textLength="15.15" lengthAdjust="spacing" stroke="#231f20" stroke-width="0.1">455</text>
<text x="111.28" y="499.3" font-size="8.3" text-anchor="middle" textLength="15.15" lengthAdjust="spacing" stroke="#231f20" stroke-width="0.1">453</text>
<text x="154.26" y="499.3" font-size="8.3" text-anchor="middle" textLength="15.15" lengthAdjust="spacing" stroke="#231f20" stroke-width="0.1">443</text>
<text x="197.24" y="499.3" font-size="8.3" text-anchor="middle" textLength="15.15" lengthAdjust="spacing" stroke="#231f20" stroke-width="0.1">106</text>
<text x="240.22" y="499.3" font-size="8.3" text-anchor="middle" textLength="5.05" lengthAdjust="spacing" stroke="#231f20" stroke-width="0.1">3</text>
<text x="312.8" y="460.4" font-size="10.7" >Number at risk</text>
<rect x="300.8" y="467.4" width="9.6" height="3" fill="#bdbcc1"/>
<text x="328.5" y="472" font-size="8.3" text-anchor="middle" textLength="25.25" lengthAdjust="spacing" stroke="#231f20" stroke-width="0.1">19785</text>
<text x="371.48" y="472" font-size="8.3" text-anchor="middle" textLength="25.25" lengthAdjust="spacing" stroke="#231f20" stroke-width="0.1">19461</text>
<text x="414.46" y="472" font-size="8.3" text-anchor="middle" textLength="25.25" lengthAdjust="spacing" stroke="#231f20" stroke-width="0.1">18264</text>
<text x="457.44" y="472" font-size="8.3" text-anchor="middle" textLength="20.2" lengthAdjust="spacing" stroke="#231f20" stroke-width="0.1">2452</text>
<text x="500.42" y="472.3" font-size="8.3" text-anchor="middle" textLength="5.05" lengthAdjust="spacing" stroke="#231f20" stroke-width="0.1">0</text>
<rect x="300.8" y="476.5" width="9.6" height="3" fill="#c41f30"/>
<text x="328.5" y="481.1" font-size="8.3" text-anchor="middle" textLength="15.15" lengthAdjust="spacing" stroke="#231f20" stroke-width="0.1">660</text>
<text x="371.48" y="481.1" font-size="8.3" text-anchor="middle" textLength="15.15" lengthAdjust="spacing" stroke="#231f20" stroke-width="0.1">614</text>
<text x="414.46" y="481.1" font-size="8.3" text-anchor="middle" textLength="15.15" lengthAdjust="spacing" stroke="#231f20" stroke-width="0.1">544</text>
<text x="457.44" y="481.1" font-size="8.3" text-anchor="middle" textLength="10.1" lengthAdjust="spacing" stroke="#231f20" stroke-width="0.1">84</text>
<text x="500.42" y="479.7" font-size="8.3" text-anchor="middle" textLength="5.05" lengthAdjust="spacing" stroke="#231f20" stroke-width="0.1">0</text>
<rect x="300.8" y="485.6" width="9.6" height="3" fill="#3db54a"/>
<text x="328.5" y="490.2" font-size="8.3" text-anchor="middle" textLength="20.2" lengthAdjust="spacing" stroke="#231f20" stroke-width="0.1">1212</text>
<text x="371.48" y="490.2" font-size="8.3" text-anchor="middle" textLength="20.2" lengthAdjust="spacing" stroke="#231f20" stroke-width="0.1">1198</text>
<text x="414.46" y="490.2" font-size="8.3" text-anchor="middle" textLength="20.2" lengthAdjust="spacing" stroke="#231f20" stroke-width="0.1">1140</text>
<text x="457.44" y="490.2" font-size="8.3" text-anchor="middle" textLength="15.15" lengthAdjust="spacing" stroke="#231f20" stroke-width="0.1">164</text>
<text x="500.42" y="486.9" font-size="8.3" text-anchor="middle" textLength="5.05" lengthAdjust="spacing" stroke="#231f20" stroke-width="0.1">0</text>
<rect x="300.8" y="494.7" width="9.6" height="3" fill="#5a2a72"/>
<text x="328.5" y="499.3" font-size="8.3" text-anchor="middle" textLength="10.1" lengthAdjust="spacing" stroke="#231f20" stroke-width="0.1">70</text>
<text x="371.48" y="499.3" font-size="8.3" text-anchor="middle" textLength="10.1" lengthAdjust="spacing" stroke="#231f20" stroke-width="0.1">69</text>
<text x="414.46" y="499.3" font-size="8.3" text-anchor="middle" textLength="10.1" lengthAdjust="spacing" stroke="#231f20" stroke-width="0.1">66</text>
<text x="457.44" y="499.3" font-size="8.3" text-anchor="middle" textLength="10.1" lengthAdjust="spacing" stroke="#231f20" stroke-width="0.1">15</text>
<text x="500.42" y="494.6" font-size="8.3" text-anchor="middle" textLength="5.05" lengthAdjust="spacing" stroke="#231f20" stroke-width="0.1">0</text>
<text x="53" y="720" font-size="10.7" >Number at risk</text>
<rect x="38.1" y="726" width="9.6" height="3" fill="#bdbcc1"/>
<text x="68.3" y="730.6" font-size="8.3" text-anchor="middle" textLength="30.3" lengthAdjust="spacing" stroke="#231f20" stroke-width="0.1">115710</text>
<text x="111.28" y="730.6" font-size="8.3" text-anchor="middle" textLength="30.3" lengthAdjust="spacing" stroke="#231f20" stroke-width="0.1">115463</text>
<text x="154.26" y="730.6" font-size="8.3" text-anchor="middle" textLength="30.3" lengthAdjust="spacing" stroke="#231f20" stroke-width="0.1">112493</text>
<text x="197.24" y="730.6" font-size="8.3" text-anchor="middle" textLength="25.25" lengthAdjust="spacing" stroke="#231f20" stroke-width="0.1">23020</text>
<text x="240.22" y="730.6" font-size="8.3" text-anchor="middle" textLength="15.15" lengthAdjust="spacing" stroke="#231f20" stroke-width="0.1">828</text>
<rect x="38.1" y="735.1" width="9.6" height="3" fill="#10508a"/>
<text x="68.3" y="739.7" font-size="8.3" text-anchor="middle" textLength="20.2" lengthAdjust="spacing" stroke="#231f20" stroke-width="0.1">1521</text>
<text x="111.28" y="739.7" font-size="8.3" text-anchor="middle" textLength="20.2" lengthAdjust="spacing" stroke="#231f20" stroke-width="0.1">1511</text>
<text x="154.26" y="739.7" font-size="8.3" text-anchor="middle" textLength="20.2" lengthAdjust="spacing" stroke="#231f20" stroke-width="0.1">1481</text>
<text x="197.24" y="739.7" font-size="8.3" text-anchor="middle" textLength="15.15" lengthAdjust="spacing" stroke="#231f20" stroke-width="0.1">295</text>
<text x="240.22" y="739.7" font-size="8.3" text-anchor="middle" textLength="5.05" lengthAdjust="spacing" stroke="#231f20" stroke-width="0.1">3</text>
<rect x="38.1" y="744.2" width="9.6" height="3" fill="#3db54a"/>
<text x="68.3" y="748.8" font-size="8.3" text-anchor="middle" textLength="20.2" lengthAdjust="spacing" stroke="#231f20" stroke-width="0.1">5432</text>
<text x="111.28" y="748.8" font-size="8.3" text-anchor="middle" textLength="20.2" lengthAdjust="spacing" stroke="#231f20" stroke-width="0.1">5422</text>
<text x="154.26" y="748.8" font-size="8.3" text-anchor="middle" textLength="20.2" lengthAdjust="spacing" stroke="#231f20" stroke-width="0.1">5333</text>
<text x="197.24" y="748.8" font-size="8.3" text-anchor="middle" textLength="20.2" lengthAdjust="spacing" stroke="#231f20" stroke-width="0.1">1018</text>
<text x="240.22" y="748.8" font-size="8.3" text-anchor="middle" textLength="10.1" lengthAdjust="spacing" stroke="#231f20" stroke-width="0.1">18</text>
<rect x="38.1" y="753.3" width="9.6" height="3" fill="#5a2a72"/>
<text x="68.3" y="757.9" font-size="8.3" text-anchor="middle" textLength="15.15" lengthAdjust="spacing" stroke="#231f20" stroke-width="0.1">208</text>
<text x="111.28" y="757.9" font-size="8.3" text-anchor="middle" textLength="15.15" lengthAdjust="spacing" stroke="#231f20" stroke-width="0.1">207</text>
<text x="154.26" y="757.9" font-size="8.3" text-anchor="middle" textLength="15.15" lengthAdjust="spacing" stroke="#231f20" stroke-width="0.1">200</text>
<text x="197.24" y="757.9" font-size="8.3" text-anchor="middle" textLength="10.1" lengthAdjust="spacing" stroke="#231f20" stroke-width="0.1">41</text>
<text x="240.22" y="757.9" font-size="8.3" text-anchor="middle" textLength="5.05" lengthAdjust="spacing" stroke="#231f20" stroke-width="0.1">3</text>
<text x="313.7" y="720.1" font-size="10.7" >Number at risk</text>
<rect x="300.8" y="726" width="9.6" height="3" fill="#bdbcc1"/>
<text x="329.5" y="730.6" font-size="8.3" text-anchor="middle" textLength="25.25" lengthAdjust="spacing" stroke="#231f20" stroke-width="0.1">19894</text>
<text x="372.48" y="730.6" font-size="8.3" text-anchor="middle" textLength="25.25" lengthAdjust="spacing" stroke="#231f20" stroke-width="0.1">19542</text>
<text x="415.46" y="730.6" font-size="8.3" text-anchor="middle" textLength="25.25" lengthAdjust="spacing" stroke="#231f20" stroke-width="0.1">18322</text>
<text x="458.44" y="730.6" font-size="8.3" text-anchor="middle" textLength="20.2" lengthAdjust="spacing" stroke="#231f20" stroke-width="0.1">2472</text>
<text x="501.42" y="730.6" font-size="8.3" text-anchor="middle" textLength="5.05" lengthAdjust="spacing" stroke="#231f20" stroke-width="0.1">0</text>
<rect x="300.8" y="735.1" width="9.6" height="3" fill="#10508a"/>
<text x="329.5" y="739.7" font-size="8.3" text-anchor="middle" textLength="15.15" lengthAdjust="spacing" stroke="#231f20" stroke-width="0.1">532</text>
<text x="372.48" y="739.7" font-size="8.3" text-anchor="middle" textLength="15.15" lengthAdjust="spacing" stroke="#231f20" stroke-width="0.1">514</text>
<text x="415.46" y="739.7" font-size="8.3" text-anchor="middle" textLength="15.15" lengthAdjust="spacing" stroke="#231f20" stroke-width="0.1">467</text>
<text x="458.44" y="739.7" font-size="8.3" text-anchor="middle" textLength="10.1" lengthAdjust="spacing" stroke="#231f20" stroke-width="0.1">61</text>
<text x="501.42" y="739.7" font-size="8.3" text-anchor="middle" textLength="5.05" lengthAdjust="spacing" stroke="#231f20" stroke-width="0.1">0</text>
<rect x="300.8" y="744.2" width="9.6" height="3" fill="#3db54a"/>
<text x="329.5" y="748.8" font-size="8.3" text-anchor="middle" textLength="20.2" lengthAdjust="spacing" stroke="#231f20" stroke-width="0.1">1212</text>
<text x="372.48" y="748.8" font-size="8.3" text-anchor="middle" textLength="20.2" lengthAdjust="spacing" stroke="#231f20" stroke-width="0.1">1199</text>
<text x="415.46" y="748.8" font-size="8.3" text-anchor="middle" textLength="20.2" lengthAdjust="spacing" stroke="#231f20" stroke-width="0.1">1143</text>
<text x="458.44" y="748.8" font-size="8.3" text-anchor="middle" textLength="15.15" lengthAdjust="spacing" stroke="#231f20" stroke-width="0.1">168</text>
<text x="501.42" y="748.8" font-size="8.3" text-anchor="middle" textLength="5.05" lengthAdjust="spacing" stroke="#231f20" stroke-width="0.1">0</text>
<rect x="300.8" y="753.3" width="9.6" height="3" fill="#5a2a72"/>
<text x="329.5" y="757.9" font-size="8.3" text-anchor="middle" textLength="10.1" lengthAdjust="spacing" stroke="#231f20" stroke-width="0.1">69</text>
<text x="372.48" y="757.9" font-size="8.3" text-anchor="middle" textLength="10.1" lengthAdjust="spacing" stroke="#231f20" stroke-width="0.1">67</text>
<text x="415.46" y="757.9" font-size="8.3" text-anchor="middle" textLength="10.1" lengthAdjust="spacing" stroke="#231f20" stroke-width="0.1">62</text>
<text x="458.44" y="757.9" font-size="8.3" text-anchor="middle" textLength="10.1" lengthAdjust="spacing" stroke="#231f20" stroke-width="0.1">11</text>
<text x="501.42" y="757.9" font-size="8.3" text-anchor="middle" textLength="5.05" lengthAdjust="spacing" stroke="#231f20" stroke-width="0.1">0</text>
<rect x="149" y="248" width="7.9" height="7.9" fill="#bdbcc1"/>
<text x="161.7" y="254.9" font-size="8.25" >None</text>
<rect x="199.1" y="248" width="7.9" height="7.9" fill="#c41f30"/>
<text x="212.8" y="254.9" font-size="8.25" >Anemia</text>
<rect x="257.3" y="248" width="7.9" height="7.9" fill="#10508a"/>
<text x="270.6" y="254.9" font-size="8.25" >Thrombocytopenia</text>
<rect x="347.9" y="248" width="7.9" height="7.9" fill="#5a2a72"/>
<text x="360.4" y="254.9" font-size="8.25" >Bicytopenia</text>
<rect x="149" y="506.3" width="7.9" height="7.9" fill="#bdbcc1"/>
<text x="161.7" y="513.2" font-size="8.25" >None</text>
<rect x="203.6" y="506.3" width="7.9" height="7.9" fill="#c41f30"/>
<text x="216.9" y="513.2" font-size="8.25" >Anemia</text>
<rect x="267" y="506.3" width="7.9" height="7.9" fill="#3db54a"/>
<text x="280.3" y="513.2" font-size="8.25" >Neutropenia</text>
<rect x="347.9" y="506.3" width="7.9" height="7.9" fill="#5a2a72"/>
<text x="360.2" y="513.2" font-size="8.25" >Bicytopenia</text>
<rect x="149" y="764.9" width="7.9" height="7.9" fill="#bdbcc1"/>
<text x="161.7" y="771.8" font-size="8.25" >None</text>
<rect x="189.8" y="764.9" width="7.9" height="7.9" fill="#10508a"/>
<text x="203.3" y="771.8" font-size="8.25" >Thrombocytopenia</text>
<rect x="280.5" y="764.9" width="7.9" height="7.9" fill="#3db54a"/>
<text x="294" y="771.8" font-size="8.25" >Neutropenia</text>
<rect x="347.9" y="764.9" width="7.9" height="7.9" fill="#5a2a72"/>
<text x="360.2" y="771.8" font-size="8.25" >Bicytopenia</text>
</g>
<rect x="0.5" y="0.5" width="519" height="781" fill="none" stroke="#111" stroke-width="1"/>
<path d="M518.5 1V781M1 780.5H519M1.5 1V781M1 1.5H519" stroke="#111" stroke-width="1" stroke-opacity="0.12"/>
</svg></body></html>
